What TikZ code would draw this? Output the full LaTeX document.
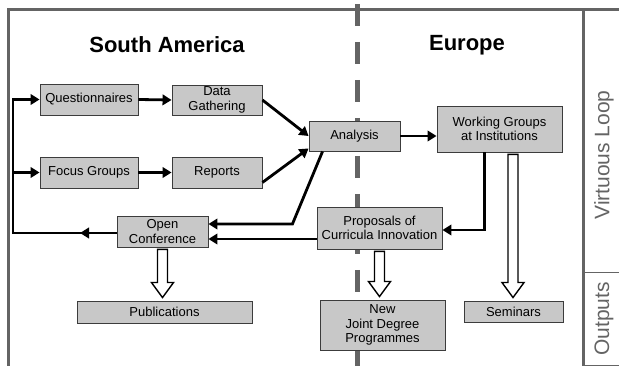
\documentclass[tikz,border=0pt]{standalone}
\usepackage{fontspec}
\setmainfont{Liberation Sans}
\usetikzlibrary{calc,arrows.meta}
\definecolor{boxfill}{RGB}{200,200,200}
\definecolor{boxline}{RGB}{60,60,60}
\definecolor{framegray}{RGB}{100,100,100}
\newcommand\myhollow[3]{\path[hollow] let \p1=(#1.south), \p2=(#2.north) in
  (\x1+#3-5pt,\y1-2pt) -- (\x1+#3+5pt,\y1-2pt) -- (\x1+#3+5pt,\y2+18pt) --
  (\x1+#3+11pt,\y2+18pt) -- (\x1+#3,\y2+3pt) -- (\x1+#3-11pt,\y2+18pt) --
  (\x1+#3-5pt,\y2+18pt) -- cycle;}
\begin{document}
\begin{tikzpicture}[x=1pt,y=-1pt,
  box/.style={draw=boxline, line width=0.9pt, fill=boxfill, align=center, inner sep=0pt,
    font=\fontsize{13}{14.5}\selectfont},
  arr/.style={line width=2.8pt, -{Triangle[length=9pt,width=10.5pt]}},
  frame/.style={line width=3pt, draw=framegray},
  thinframe/.style={line width=1pt, draw=framegray},
  hollow/.style={draw=black, line width=1.4pt, fill=white, line join=miter},
  title/.style={font=\fontsize{22}{26}\selectfont\bfseries},
  side/.style={font=\fontsize{21}{24}\selectfont, text=framegray, rotate=90}]
\useasboundingbox (0,0) rectangle (619,366);
% frame
\draw[frame] (8,366) -- (8,9.5) -- (619,9.5);
\draw[frame] (583,9.5) -- (583,366);
\draw[thinframe] (583,273) -- (619,273);
\draw[thinframe] (583,365) -- (619,365);
% dashed divider
\draw[line width=5pt, draw=framegray, dash pattern=on 22pt off 16pt] (357,4) -- (357,366);
% titles
\node[title] (sa) at (167,45) {South America};
\node[title] (eu) at (467,45) {Europe};
\node[side] (vl) at (604,155) {Virtuous Loop};
\node[side] (ou) at (604,319) {Outputs};
% boxes
\node[box, minimum width=98pt, minimum height=31pt] (q) at (89,99.5) {Questionnaires};
\node[box, minimum width=98pt, minimum height=31pt] (fg) at (89,172.5) {Focus Groups};
\node[box, minimum width=90pt, minimum height=30pt] (dg) at (217,100) {Data\\Gathering};
\node[box, minimum width=90pt, minimum height=31pt] (rep) at (217,172.5) {Reports};
\node[box, minimum width=91pt, minimum height=30pt] (an) at (354.5,136) {Analysis};
\node[box, minimum width=125pt, minimum height=46pt] (wg) at (499.5,129) {Working Groups\\at Institutions};
\node[box, minimum width=91pt, minimum height=31pt] (oc) at (162.5,231.5) {Open\\Conference};
\node[box, minimum width=125pt, minimum height=42pt] (pr) at (379.5,228) {Proposals of\\Curricula Innovation};
\node[box, minimum width=175pt, minimum height=22pt] (pub) at (164.5,312) {Publications};
\node[box, minimum width=125pt, minimum height=50pt] (nj) at (382.5,325) {New\\Joint Degree\\Programmes};
\node[box, minimum width=99pt, minimum height=21pt] (sem) at (513.5,311.5) {Seminars};
% connectors
\draw[arr] (q.east) -- (dg.west);
\draw[arr] (fg.east) -- (rep.west);
\draw[arr] (dg.east) -- (an.west);
\draw[arr] ($(rep.south east)+(0,-6)$) -- ($(an.south west)+(0,-3)$);
\draw[arr] (an.east) -- (an.east -| wg.west);
\draw[arr] ($(an.south west)+(14,0)$) -- ($(oc.east)+(84,-7.5)$) -- ($(oc.east)+(0,-7.5)$);
\coordinate (ocl) at ($(oc.east)+(0,7.5)$);
\draw[arr] (pr.west |- ocl) -- (ocl);
\draw[arr] ($(wg.south west)+(48,0)$) |- ($(pr.east)+(0,2)$);
\coordinate (lc) at (13,233);
\draw[arr] (oc.west |- lc) -- (lc) -- (lc |- q.west) -- (q.west);
\draw[arr] (oc.west |- lc) -- ($(lc)+(67,0)$);
\draw[arr] (lc |- fg.west) -- (fg.west);
% hollow arrows
\myhollow{oc}{pub}{0pt}
\myhollow{pr}{nj}{0pt}
\myhollow{wg}{sem}{13.5pt}
\end{tikzpicture}
\end{document}
